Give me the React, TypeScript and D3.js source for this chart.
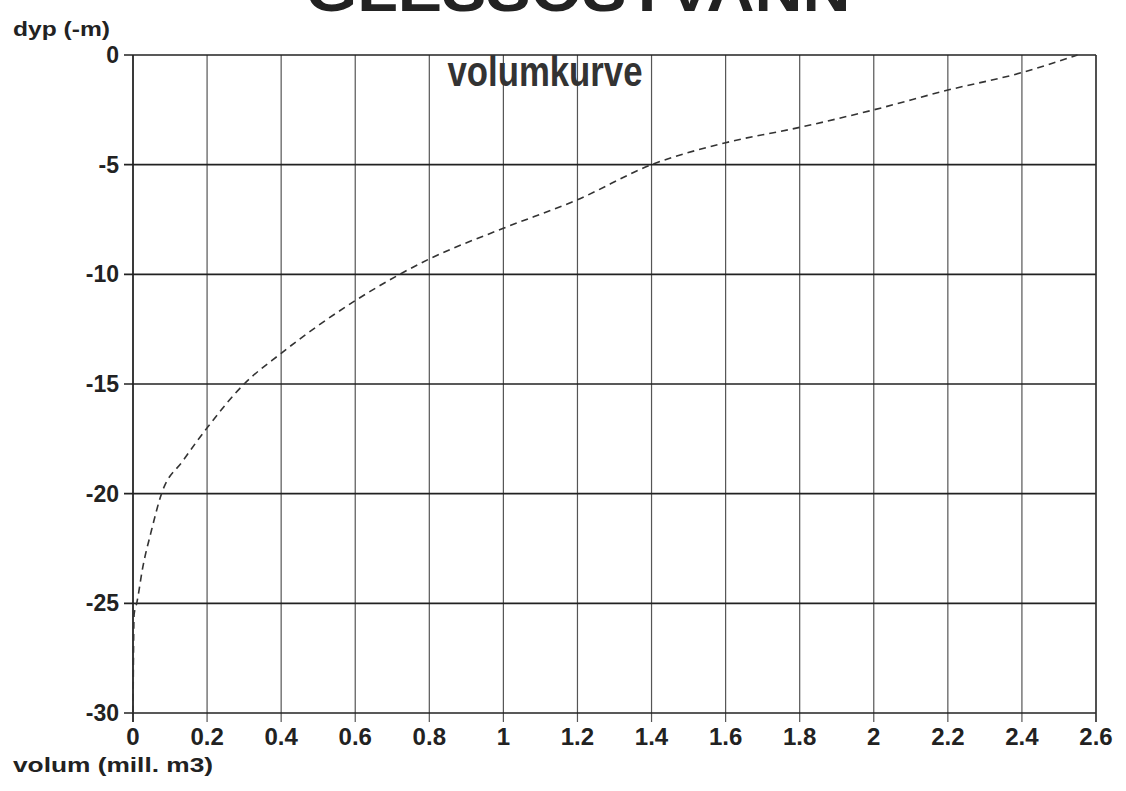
import React from "react";
import * as d3 from "d3";

const title = "GLESSOSTVANN";
const subtitle = "volumkurve";
const yAxisTitle = "dyp (-m)";
const xAxisTitle = "volum (mill. m3)";

const xTicks = [0, 0.2, 0.4, 0.6, 0.8, 1, 1.2, 1.4, 1.6, 1.8, 2, 2.2, 2.4, 2.6];
const yTicks = [0, -5, -10, -15, -20, -25, -30];

const volume = [0, 0.003, 0.01, 0.027, 0.048, 0.077, 0.135, 0.2, 0.3, 0.4, 0.6, 0.72, 0.8, 1.0, 1.2, 1.4, 1.6, 1.8, 2.0, 2.2, 2.4, 2.55];
const depth = [-30, -25.5, -25, -23.3, -21.8, -20, -18.5, -17, -15, -13.6, -11.2, -10, -9.3, -7.9, -6.6, -5, -4, -3.3, -2.5, -1.6, -0.8, 0];

export default function App() {
  const W = 1126, H = 791;
  const x = d3.scaleLinear().domain([0, 2.6]).range([133, 1096]);
  const y = d3.scaleLinear().domain([-30, 0]).range([713, 55]);
  const pts = volume.map((v, i) => [v, depth[i]] as [number, number]);
  const line = d3.line<[number, number]>().x(d => x(d[0])).y(d => y(d[1])).curve(d3.curveMonotoneX);
  const font = "Arial, 'Liberation Sans', Helvetica, sans-serif";
  return (
    <svg width={W} height={H} style={{ position: "absolute", left: 0, top: 0, background: "#fff" }}>
      <rect x={0} y={0} width={W} height={H} fill="#fff" />
      <text x={578} y={11} textAnchor="middle" fontFamily={font} fontWeight="bold" fontSize={62}
        textLength={545} lengthAdjust="spacingAndGlyphs" fill="#222">{title}</text>
      {xTicks.map(t => (
        <line key={"vx" + t} x1={x(t)} x2={x(t)} y1={y(0)} y2={y(-30) + 9} stroke="#555" strokeWidth={1.2} />
      ))}
      {yTicks.map(t => (
        <line key={"hy" + t} x1={x(0) - 9} x2={x(2.6)} y1={y(t)} y2={y(t)} stroke="#222" strokeWidth={1.6} />
      ))}
      <line x1={x(0)} x2={x(0)} y1={y(0)} y2={y(-30) + 9} stroke="#222" strokeWidth={1.6} />
      <line x1={x(2.6)} x2={x(2.6)} y1={y(0)} y2={y(-30) + 9} stroke="#333" strokeWidth={1.4} />
      <path d={line(pts) || ""} fill="none" stroke="#333" strokeWidth={1.6} strokeDasharray="7,5" />
      <text x={545} y={86} textAnchor="middle" fontFamily={font} fontWeight="bold" fontSize={42}
        textLength={195} lengthAdjust="spacingAndGlyphs" fill="#333">{subtitle}</text>
      {yTicks.map(t => (
        <text key={"ly" + t} x={119} y={y(t) + 8} textAnchor="end" fontFamily={font} fontWeight="bold"
          fontSize={23} fill="#222">{t === 0 ? "0" : "-" + Math.abs(t)}</text>
      ))}
      {xTicks.map(t => (
        <text key={"lx" + t} x={x(t)} y={745} textAnchor="middle" fontFamily={font} fontWeight="bold"
          fontSize={24} fill="#222">{d3.format("~g")(t)}</text>
      ))}
      <text x={13} y={36} fontFamily={font} fontWeight="bold" fontSize={20} textLength={97}
        lengthAdjust="spacingAndGlyphs" fill="#222">{yAxisTitle}</text>
      <text x={13} y={772} fontFamily={font} fontWeight="bold" fontSize={20} textLength={200}
        lengthAdjust="spacingAndGlyphs" fill="#222">{xAxisTitle}</text>
    </svg>
  );
}
